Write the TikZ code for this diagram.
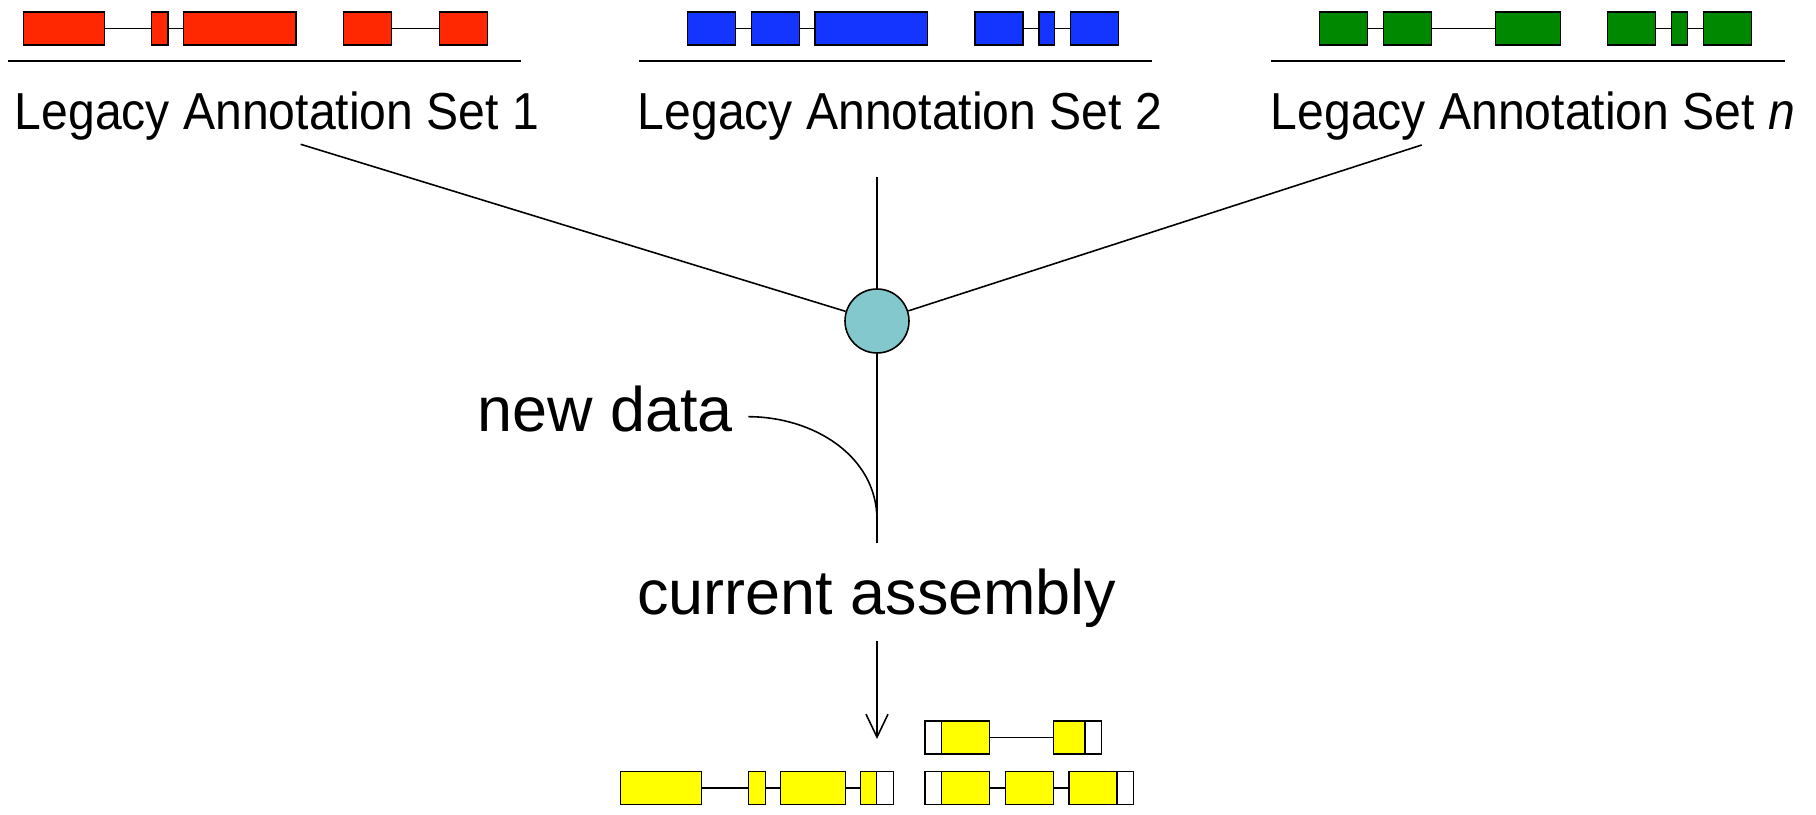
\documentclass[tikz,border=0pt]{standalone}
\usepackage{xcolor}
\usepackage{tikz}
\usepackage{fontspec}
\setmainfont{Liberation Sans}
\usetikzlibrary{
    arrows.meta,
    positioning
}
\definecolor{setred}{RGB}{255,40,0}
\definecolor{setblue}{RGB}{20,52,255}
\definecolor{setgreen}{RGB}{0,136,0}
\definecolor{cdsyellow}{RGB}{255,255,0}
\definecolor{hubteal}{RGB}{130,200,204}

\begin{document}
\begin{tikzpicture}[
    node distance=0.16cm,
    exon/.style={
        draw,
        line width=0.4pt,
        inner sep=0pt,
        outer sep=0pt,
        minimum height=0.33cm,
        minimum width=0.48cm
    },
    redexon/.style={exon, fill=setred},
    blueexon/.style={exon, fill=setblue},
    greenexon/.style={exon, fill=setgreen},
    cds/.style={exon, fill=cdsyellow},
    utr/.style={exon, fill=white, minimum width=0.165cm},
    intron/.style={line width=0.4pt},
    rule/.style={line width=0.45pt},
    spoke/.style={line width=0.45pt},
    setlabel/.style={
        inner sep=0pt,
        anchor=base,
        xscale=0.925,
        font=\fontsize{14.8pt}{17pt}\selectfont
    },
    biglabel/.style={
        inner sep=0pt,
        font=\fontsize{17.9pt}{21pt}\selectfont
    },
    hub/.style={
        draw,
        circle,
        line width=0.45pt,
        fill=hubteal,
        minimum size=0.64cm,
        inner sep=0pt
    }
]
\useasboundingbox (0,0) rectangle (18.16,-8.15);

\node[redexon, minimum width=0.81cm] (r1) at (0.639,-0.284) {};
\node[redexon, minimum width=0.165cm, right=0.47cm of r1] (r2) {};
\node[redexon, minimum width=1.125cm, right=0.155cm of r2] (r3) {};
\node[redexon, right=0.475cm of r3] (r4) {};
\node[redexon, right=0.48cm of r4] (r5) {};
\draw[intron] (r1) -- (r2);
\draw[intron] (r2) -- (r3);
\draw[intron] (r4) -- (r5);
\draw[rule] (0.076,-0.612) -- (5.207,-0.612);
\node[setlabel] (set1) at (2.77,-1.291) {Legacy Annotation Set 1};

\node[blueexon] (b1) at (7.115,-0.284) {};
\node[blueexon, right=of b1] (b2) {};
\node[blueexon, minimum width=1.125cm, right=0.155cm of b2] (b3) {};
\node[blueexon, right=0.475cm of b3] (b4) {};
\node[blueexon, minimum width=0.155cm, right=of b4] (b5) {};
\node[blueexon, right=of b5] (b6) {};
\draw[intron] (b1) -- (b2);
\draw[intron] (b2) -- (b3);
\draw[intron] (b4) -- (b5);
\draw[intron] (b5) -- (b6);
\draw[rule] (6.386,-0.612) -- (11.524,-0.612);
\node[setlabel] (set2) at (9.00,-1.291) {Legacy Annotation Set 2};

\node[greenexon] (g1) at (13.432,-0.284) {};
\node[greenexon, right=of g1] (g2) {};
\node[greenexon, minimum width=0.65cm, right=0.64cm of g2] (g3) {};
\node[greenexon, right=0.475cm of g3] (g4) {};
\node[greenexon, minimum width=0.16cm, right=of g4] (g5) {};
\node[greenexon, right=of g5] (g6) {};
\draw[intron] (g1) -- (g2);
\draw[intron] (g2) -- (g3);
\draw[intron] (g4) -- (g5);
\draw[intron] (g5) -- (g6);
\draw[rule] (12.713,-0.612) -- (17.848,-0.612);
\node[setlabel] (setn) at (15.33,-1.291) {Legacy Annotation Set \textit{n}};

\node[hub] (hub) at (8.77,-3.21) {};
\coordinate (from1) at (3.007,-1.443);
\coordinate (from2) at (8.77,-1.773);
\coordinate (fromn) at (14.217,-1.450);
\coordinate (merge) at (8.77,-5.20);
\coordinate (stemend) at (8.77,-5.433);
\coordinate (tip) at (8.77,-7.39);

\draw[spoke] (from1) -- (hub);
\draw[spoke] (from2) -- (hub);
\draw[spoke] (fromn) -- (hub);
\draw[spoke] (hub) -- (stemend);

\node[biglabel, anchor=base east] (newdata) at (7.336,-4.317) {new data};
\draw[spoke] ([xshift=0.147cm, yshift=0.15cm]newdata.base east)
    to[out=0, in=90] (merge);

\node[biglabel, anchor=base] (assembly) at (8.77,-6.15) {current assembly};
\draw[spoke, -{Straight Barb[length=0.23cm, width=0.22cm]}, shorten <=0.125cm]
    (assembly.south) -- (tip);

\node[utr] (u2) at (9.333,-7.375) {};
\node[cds, right=0cm of u2] (y5) {};
\node[cds, minimum width=0.315cm, right=0.64cm of y5] (y6) {};
\node[utr, right=0cm of y6] (u3) {};
\draw[intron] (y5) -- (y6);

\node[cds, minimum width=0.81cm] (y1) at (6.612,-7.88) {};
\node[cds, minimum width=0.165cm, right=0.47cm of y1] (y2) {};
\node[cds, minimum width=0.645cm, right=0.155cm of y2] (y3) {};
\node[cds, minimum width=0.16cm, right=0.155cm of y3] (y4) {};
\node[utr, right=0cm of y4] (u1) {};
\draw[intron] (y1) -- (y2);
\draw[intron] (y2) -- (y3);
\draw[intron] (y3) -- (y4);

\node[utr] (u4) at (9.333,-7.88) {};
\node[cds, right=0cm of u4] (y7) {};
\node[cds, right=of y7] (y8) {};
\node[cds, right=0.155cm of y8] (y9) {};
\node[utr, right=0cm of y9] (u5) {};
\draw[intron] (y7) -- (y8);
\draw[intron] (y8) -- (y9);

\end{tikzpicture}
\end{document}
